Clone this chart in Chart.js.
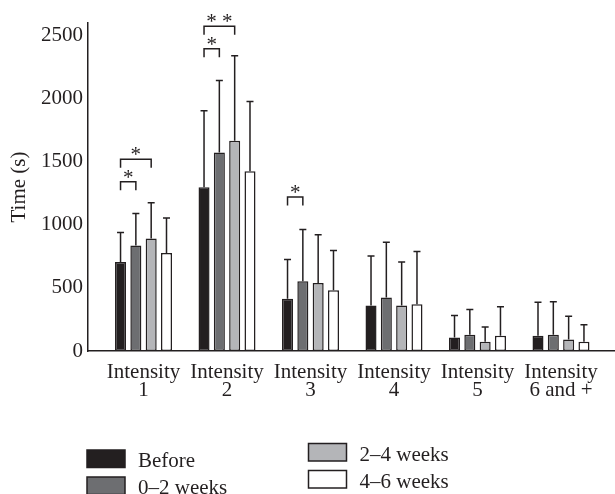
<!DOCTYPE html>
<html>
<head>
<meta charset="utf-8">
<script src="https://cdn.jsdelivr.net/npm/chart.js@4/dist/chart.umd.min.js"></script>
<style>
  html, body { margin: 0; padding: 0; background: #fff; }
  #wrap { width: 615px; height: 494px; position: relative; }
</style>
</head>
<body>
<div id="wrap"><canvas id="chart"></canvas></div>
<script>
// categories and tick labels
var categories = [["Intensity", "1"], ["Intensity", "2"], ["Intensity", "3"], ["Intensity", "4"], ["Intensity", "5"], ["Intensity", "6 and +"]];
var yTicks = [0, 500, 1000, 1500, 2000, 2500];

// series: mean time (s) and standard deviation
var seriesNames = ["Before", "0\u20132 weeks", "2\u20134 weeks", "4\u20136 weeks"];
var seriesColors = ["#231f20", "#6d6e71", "#b4b5b8", "#ffffff"];
var before = [706, 1298, 414, 361, 108, 121];
var beforeSd = [234, 607, 312, 392, 174, 266];
var weeks02 = [837, 1574, 553, 424, 129, 129];
var weeks02Sd = [252, 571, 410, 439, 200, 261];
var weeks24 = [892, 1666, 540, 361, 74, 92];
var weeks24Sd = [284, 674, 381, 345, 116, 184];
var weeks46 = [777, 1424, 482, 371, 121, 74];
var weeks46Sd = [278, 553, 315, 418, 229, 134];

// significance brackets: category, from series, to series, level (s), mark
var sigCategory = [0, 0, 1, 1, 2];
var sigFrom = [0, 0, 0, 0, 0];
var sigTo = [1, 2, 1, 2, 1];
var sigLevel = [1342, 1519, 2395, 2575, 1221];
var sigMark = ["*", "*", "*", "* *", "*"];

var ink = "#231f20";
var serif = "'Liberation Serif', 'Times New Roman', serif";

var means = [before, weeks02, weeks24, weeks46];
var sds = [beforeSd, weeks02Sd, weeks24Sd, weeks46Sd];

var extras = {
    id: "extras",
    afterDatasetsDraw: function(chart) {
        var ctx = chart.ctx, y = chart.scales.y;
        ctx.save();
        ctx.strokeStyle = ink;
        ctx.lineWidth = 1.5;
        // error bars (upper half only)
        means.forEach(function(vals, d) {
            var meta = chart.getDatasetMeta(d);
            meta.data.forEach(function(bar, i) {
                var top = y.getPixelForValue(vals[i] + sds[d][i]);
                ctx.beginPath();
                ctx.moveTo(bar.x, bar.y);
                ctx.lineTo(bar.x, top);
                ctx.moveTo(bar.x - 3.5, top);
                ctx.lineTo(bar.x + 3.5, top);
                ctx.stroke();
            });
        });
        // significance brackets
        ctx.fillStyle = ink;
        ctx.font = "21px " + serif;
        ctx.textAlign = "center";
        ctx.textBaseline = "alphabetic";
        sigCategory.forEach(function(c, k) {
            var x1 = chart.getDatasetMeta(sigFrom[k]).data[c].x;
            var x2 = chart.getDatasetMeta(sigTo[k]).data[c].x;
            var py = y.getPixelForValue(sigLevel[k]);
            ctx.beginPath();
            ctx.moveTo(x1, py + 8.5);
            ctx.lineTo(x1, py);
            ctx.lineTo(x2, py);
            ctx.lineTo(x2, py + 8.5);
            ctx.stroke();
            ctx.fillText(sigMark[k], (x1 + x2) / 2, py + 2);
        });
        ctx.restore();
    },
    afterDraw: function(chart) {
        // two-column legend under the axis labels
        var ctx = chart.ctx;
        var cols = [{ x: 87, y: 467 }, { x: 308.5, y: 460.5 }];
        ctx.save();
        ctx.font = "21px " + serif;
        ctx.textAlign = "left";
        ctx.textBaseline = "alphabetic";
        ctx.lineWidth = 1.5;
        seriesNames.forEach(function(name, i) {
            var col = cols[Math.floor(i / 2)];
            var base = col.y + (i % 2) * 27;
            ctx.fillStyle = seriesColors[i];
            ctx.strokeStyle = ink;
            ctx.fillRect(col.x, base - 17, 38, 17.5);
            ctx.strokeRect(col.x, base - 17, 38, 17.5);
            ctx.fillStyle = ink;
            ctx.fillText(name, col.x + 51, base);
        });
        ctx.restore();
    }
};

new Chart(document.getElementById("chart"), {
    type: "bar",
    data: {
        datasets: means.map(function(vals, d) {
            return {
                label: seriesNames[d],
                data: vals.map(function(v, i) { return { x: i, y: v }; }),
                backgroundColor: seriesColors[d],
                borderColor: ink,
                borderWidth: 1.5,
                borderSkipped: false,
                categoryPercentage: 0.734,
                barPercentage: 0.72
            };
        })
    },
    options: {
        responsive: true,
        maintainAspectRatio: false,
        animation: false,
        layout: { padding: { top: 23, left: 0, right: 0, bottom: 93 } },
        plugins: { legend: { display: false }, tooltip: { enabled: false } },
        scales: {
            x: {
                type: "linear",
                offset: false,
                min: -0.665,
                max: 5.647,
                afterBuildTicks: function(scale) {
                    scale.ticks = categories.map(function(c, i) { return { value: i }; });
                },
                afterFit: function(scale) { scale.height = 50; },
                grid: { display: false, drawTicks: false },
                border: { display: true, color: ink, width: 1.5 },
                ticks: {
                    autoSkip: false,
                    maxRotation: 0,
                    padding: 12,
                    color: ink,
                    font: { family: serif, size: 21, lineHeight: 0.87 },
                    callback: function(value) { return categories[value]; }
                }
            },
            y: {
                min: 0,
                max: 2600,
                afterBuildTicks: function(scale) {
                    scale.ticks = yTicks.map(function(v) { return { value: v }; });
                },
                afterFit: function(scale) { scale.width = 88; },
                grid: { display: false, drawTicks: false },
                border: { display: true, color: ink, width: 1.5 },
                ticks: {
                    padding: 5,
                    color: ink,
                    font: { family: serif, size: 21 },
                    callback: function(value) { return String(value); }
                },
                title: {
                    display: true,
                    text: "Time (s)",
                    color: ink,
                    padding: { top: 7, bottom: 0 },
                    font: { family: serif, size: 21 }
                }
            }
        }
    },
    plugins: [extras]
});
</script>
</body>
</html>
